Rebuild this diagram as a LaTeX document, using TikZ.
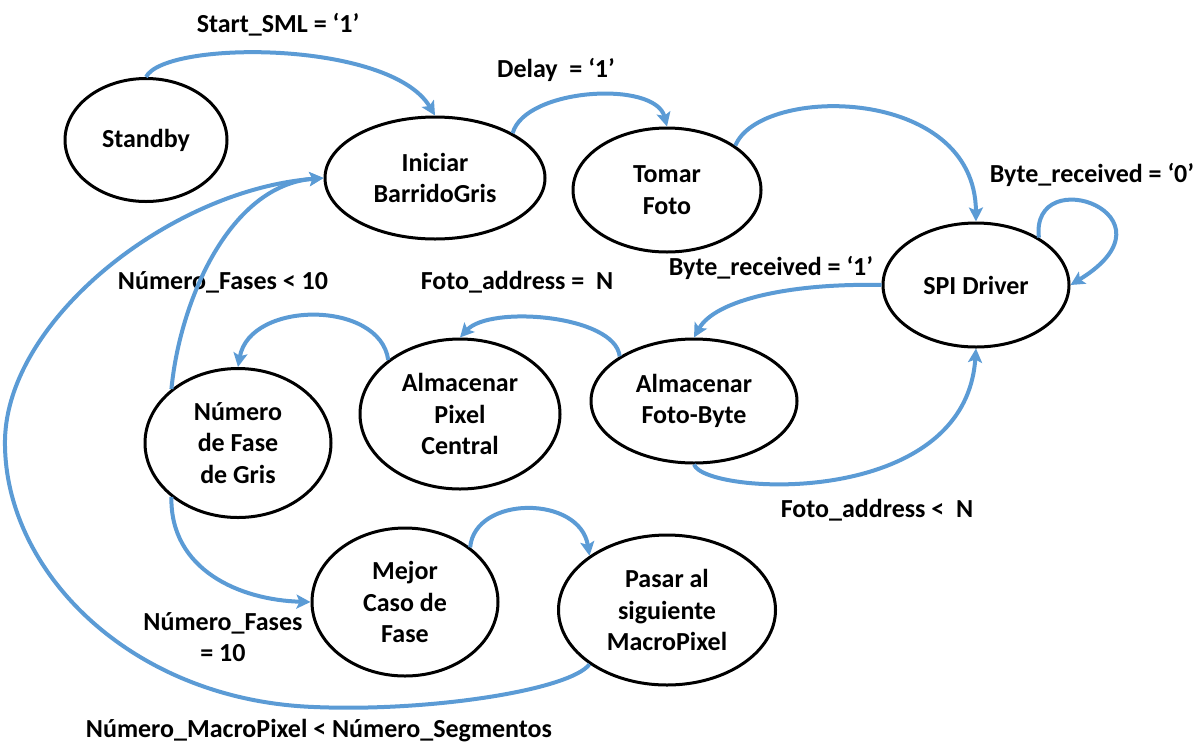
\documentclass[tikz,border=0pt]{standalone}
\usepackage{fontspec}
\setmainfont{Carlito}
\usepackage{tikz}
\usetikzlibrary{arrows.meta, positioning, shapes.geometric}

\definecolor{linkblue}{RGB}{91,155,213}

\begin{document}
\begin{tikzpicture}[x=0.5pt, y=-0.5pt,
        every node/.style={font=\fontsize{13pt}{15.75pt}\selectfont\bfseries},
        state/.style={ellipse, draw, line width=1.5pt, align=center, inner sep=0pt},
        trans/.style={draw=linkblue, line width=2pt, -{Stealth[length=7pt, width=7pt, inset=1.5pt]}},
        cond/.style={align=center, inner sep=0pt}]
        \useasboundingbox (0,0) rectangle (1199,745);

        % estados
        \node[state, minimum width=81pt, minimum height=61.5pt] (standby) at (146,140) {Standby};
        \node[state, minimum width=110pt, minimum height=61pt] (iniciar) at (435,178) {Iniciar\\BarridoGris};
        \node[state, minimum width=94pt, minimum height=62pt] (tomar) at (667,190) {Tomar\\Foto};
        \node[state, minimum width=93pt, minimum height=62pt] (spi) at (976,285) {SPI Driver};
        \node[state, minimum width=103pt, minimum height=62pt] (fotobyte) at (694,401) {Almacenar\\Foto-Byte};
        \node[state, minimum width=100pt, minimum height=75pt] (pixel) at (460,414) {Almacenar\\Pixel\\Central};
        \node[state, minimum width=93pt, minimum height=74.5pt] (numero) at (238,443) {Número\\de Fase\\de Gris};
        \node[state, minimum width=93pt, minimum height=74pt] (mejor) at (405,602) {Mejor\\Caso de\\Fase};
        \node[state, minimum width=108.5pt, minimum height=75pt] (pasar) at (667,610) {Pasar al\\siguiente\\MacroPixel};

        % condiciones
        \node[cond] (cStart) at (278,25) {Start\_SML = `1'};
        \node[cond] (cDelay) at (556,70) {Delay~~= `1'};
        \node[cond] (cByte0) at (1092,175) {Byte\_received = `0'};
        \node[cond] (cByte1) at (771,268) {Byte\_received = `1'};
        \node[cond] (cFases) at (223,282) {Número\_Fases < 10};
        \node[cond] (cFotoEq) at (517,282) {Foto\_address =~~N};
        \node[cond] (cFotoLt) at (877,510) {Foto\_address <~~N};
        \node[cond] (cFases10) at (223,637) {Número\_Fases\\= 10};
        \node[cond] (cMacro) at (319,731) {Número\_MacroPixel < Número\_Segmentos};

        % transiciones
        \draw[trans] (standby.north) .. controls (165,40) and (390,40) .. (iniciar.north);
        \draw[trans] (iniciar.30) .. controls (525,88) and (655,80) .. (tomar.north);
        \draw[trans] (tomar.33) .. controls (760,85) and (975,85) .. (spi.north);
        \draw[trans] (spi.37) .. controls (1030,160) and (1185,215) .. (spi.east);
        \draw[trans] (spi.west) .. controls (790,283) and (715,300) .. (fotobyte.north);
        \draw[trans] (fotobyte.south) .. controls (705,495) and (965,510) .. (spi.south);
        \draw[trans] (fotobyte.149) .. controls (615,315) and (490,305) .. (pixel.north);
        \draw[trans] (pixel.143) .. controls (380,300) and (250,300) .. (numero.north);
        \draw[trans] (numero.141) .. controls (180,300) and (230,185) .. (iniciar.west);
        \draw[trans] (numero.219) .. controls (170,570) and (240,600) .. (mejor.west);
        \draw[trans] (mejor.40) .. controls (475,495) and (580,495) .. (pasar.145);
        \draw[trans] (pasar.215) .. controls (570,690) and (430,712) .. (314,707)
                .. controls (130,700) and (3,570) .. (5,440)
                .. controls (7,320) and (170,190) .. (iniciar.west);
    \end{tikzpicture}
\end{document}
